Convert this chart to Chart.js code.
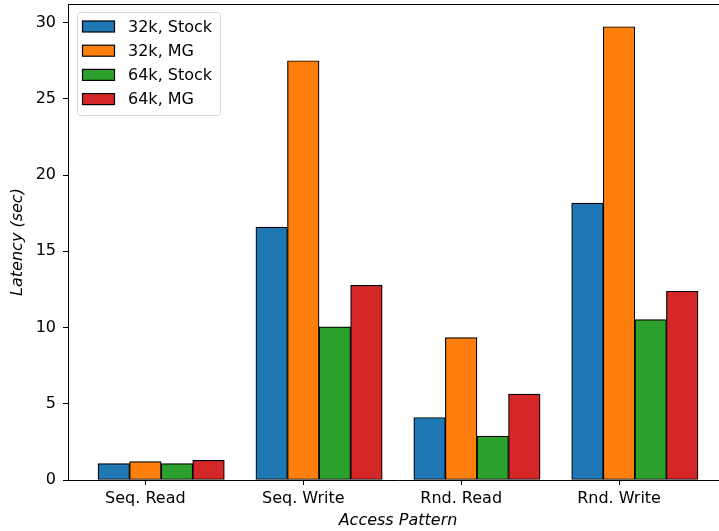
<!DOCTYPE html>
<html>
<head>
<meta charset="utf-8">
<script src="https://cdn.jsdelivr.net/npm/chart.js@4.4.1/dist/chart.umd.min.js"></script>
<style>
    html, body { margin: 0; padding: 0; overflow: hidden; background: #fff; }
    #wrap { position: relative; width: 741px; height: 531px; }
</style>
</head>
<body>
<div id="wrap"><canvas id="chart"></canvas></div>
<script>
// access patterns (x categories)
const categories = ['Seq. Read', 'Seq. Write', 'Rnd. Read', 'Rnd. Write'];

// latency in seconds, one array per configuration
const stock32k = [1.07, 16.59, 4.10, 18.16];
const mg32k    = [1.20, 27.50, 9.34, 29.73];
const stock64k = [1.07, 10.04, 2.88, 10.52];
const mg64k    = [1.29, 12.77, 5.63, 12.38];

const seriesNames = ['32k, Stock', '32k, MG', '64k, Stock', '64k, MG'];
const seriesValues = [stock32k, mg32k, stock64k, mg64k];
const seriesColors = ['#1f77b4', '#ff7f0e', '#2ca02c', '#d62728'];

const yTicks = [0, 5, 10, 15, 20, 25, 30];

const FONT = 'DejaVu Sans';
const BAR_WIDTH = 0.2;

// bars sit at i - 0.2, i, i + 0.2, i + 0.4 (tick is on the 2nd bar)
const datasets = seriesValues.map((values, k) => ({
    label: seriesNames[k],
    data: values.map((v, i) => ({ x: i + (k - 1) * BAR_WIDTH, y: v })),
    backgroundColor: seriesColors[k],
    borderColor: '#000',
    borderWidth: 1.2,
    borderSkipped: false,
    grouped: false,
    categoryPercentage: 1.0,
    barPercentage: 1.0
}));

// top spine + legend inside the axes (right spine falls outside the page)
const framePlugin = {
    id: 'frame',
    afterDatasetsDraw(chart) {
        const ctx = chart.ctx;
        const a = chart.chartArea;
        ctx.save();
        ctx.strokeStyle = '#000';
        ctx.lineWidth = 1;
        ctx.beginPath();
        ctx.moveTo(a.left, a.top + 0.5);
        ctx.lineTo(a.right, a.top + 0.5);
        ctx.stroke();
        ctx.restore();
    },
    afterDraw(chart) {
        const ctx = chart.ctx;
        const x0 = 77, y0 = 12, w = 143, h = 103;
        ctx.save();
        ctx.beginPath();
        ctx.roundRect(x0 + 0.5, y0 + 0.5, w, h, 3);
        ctx.fillStyle = 'rgba(255,255,255,0.8)';
        ctx.fill();
        ctx.strokeStyle = '#d6d6d6';
        ctx.lineWidth = 1;
        ctx.stroke();

        ctx.font = '16px "' + FONT + '"';
        ctx.textBaseline = 'middle';
        chart.data.datasets.forEach((ds, k) => {
            const cy = 26.5 + k * 24.2;
            ctx.fillStyle = ds.backgroundColor;
            ctx.fillRect(82.5, cy - 5.5, 32, 11);
            ctx.strokeStyle = '#000';
            ctx.lineWidth = 1.2;
            ctx.strokeRect(82.5, cy - 5.5, 32, 11);
            ctx.fillStyle = '#000';
            ctx.fillText(ds.label, 128, cy + 1);
        });
        ctx.restore();
    }
};

new Chart(document.getElementById('chart'), {
    type: 'bar',
    data: { datasets: datasets },
    plugins: [framePlugin],
    options: {
        responsive: true,
        maintainAspectRatio: false,
        animation: false,
        layout: { padding: { left: 0, top: 4, right: 13, bottom: 0 } },
        plugins: {
            legend: { display: false },
            tooltip: { enabled: false }
        },
        scales: {
            x: {
                type: 'linear',
                min: -0.49,
                max: 3.69,
                offset: false,
                afterBuildTicks: s => { s.ticks = categories.map((c, i) => ({ value: i })); },
                afterFit: s => {
                    s.height = 51;
                    s.paddingLeft = 0;
                    s.paddingRight = 0;
                },
                ticks: {
                    callback: v => categories[v],
                    color: '#000',
                    font: { family: FONT, size: 16 },
                    padding: 4,
                    maxRotation: 0,
                    autoSkip: false
                },
                grid: { offset: false, drawOnChartArea: false, drawTicks: true, tickLength: 5, tickColor: '#000', tickWidth: 1 },
                border: { color: '#000', width: 1 },
                title: {
                    display: true,
                    text: 'Access Pattern',
                    color: '#000',
                    font: { family: FONT, size: 16, style: 'italic' },
                    padding: { top: 0, bottom: 1 }
                }
            },
            y: {
                min: 0,
                max: 31.22,
                afterBuildTicks: s => { s.ticks = yTicks.map(v => ({ value: v })); },
                afterFit: s => {
                    s.width = 68;
                    s.paddingTop = 0;
                    s.paddingBottom = 0;
                },
                ticks: {
                    color: '#000',
                    font: { family: FONT, size: 16 },
                    padding: 7
                },
                grid: { drawOnChartArea: false, drawTicks: true, tickLength: 5, tickColor: '#000' },
                border: { color: '#000', width: 1 },
                title: {
                    display: true,
                    text: 'Latency (sec)',
                    color: '#000',
                    font: { family: FONT, size: 16, style: 'italic' },
                    padding: { top: 8, bottom: 0 }
                }
            }
        }
    }
});
</script>
</body>
</html>
